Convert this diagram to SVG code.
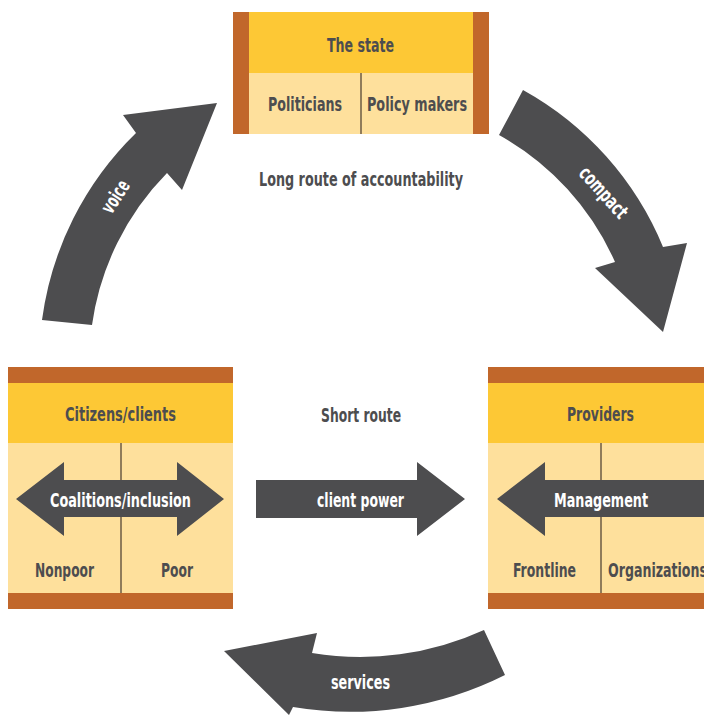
<svg xmlns="http://www.w3.org/2000/svg" width="704" height="715" viewBox="0 0 704 715">
  <style>
    .bar { fill: #C1672B; }
    .head { fill: #FDC835; }
    .body { fill: #FEE09C; }
    .div { stroke: #6B5B45; stroke-width: 1.5; }
    .arrow { fill: #4D4D4F; }
    text { font-family: "DejaVu Sans Condensed", "DejaVu Sans", sans-serif; font-weight: bold; font-size: 20px; text-anchor: middle; }
    .dark { fill: #4D4D4F; }
    .light { fill: #FFFFFF; }
  </style>

  <rect width="704" height="715" fill="#FFFFFF"/>

  <!-- The state -->
  <g id="state">
    <rect class="body" x="233" y="12" width="256" height="122"/>
    <rect class="head" x="233" y="12" width="256" height="61"/>
    <rect class="bar" x="233" y="12" width="16" height="122"/>
    <rect class="bar" x="473" y="12" width="16" height="122"/>
    <line class="div" x1="361" y1="73" x2="361" y2="134"/>
    <text class="dark" x="360.5" y="51.5" textLength="67" lengthAdjust="spacingAndGlyphs">The state</text>
    <text class="dark" x="305" y="111" textLength="74" lengthAdjust="spacingAndGlyphs">Politicians</text>
    <text class="dark" x="417" y="111" textLength="100" lengthAdjust="spacingAndGlyphs">Policy makers</text>
  </g>

  <!-- Citizens/clients -->
  <g id="citizens">
    <rect class="body" x="8" y="367" width="225" height="242"/>
    <rect class="head" x="8" y="383" width="225" height="60"/>
    <rect class="bar" x="8" y="367" width="225" height="16"/>
    <rect class="bar" x="8" y="593" width="225" height="16"/>
    <line class="div" x1="121" y1="443" x2="121" y2="593"/>
    <polygon class="arrow" points="16,499 64,462 64,480 177,480 177,462 224,499 177,536 177,517 64,517 64,536"/>
    <text class="dark" x="120.5" y="421" textLength="111" lengthAdjust="spacingAndGlyphs">Citizens/clients</text>
    <text class="light" x="120.5" y="507" textLength="141" lengthAdjust="spacingAndGlyphs">Coalitions/inclusion</text>
    <text class="dark" x="64.5" y="577" textLength="59" lengthAdjust="spacingAndGlyphs">Nonpoor</text>
    <text class="dark" x="177" y="577" textLength="32" lengthAdjust="spacingAndGlyphs">Poor</text>
  </g>

  <!-- Providers (box runs past the right edge) -->
  <g id="providers">
    <rect class="body" x="488" y="367" width="225" height="242"/>
    <rect class="head" x="488" y="383" width="225" height="60"/>
    <rect class="bar" x="488" y="367" width="225" height="16"/>
    <rect class="bar" x="488" y="593" width="225" height="16"/>
    <line class="div" x1="601" y1="443" x2="601" y2="593"/>
    <polygon class="arrow" points="497,499 545,462 545,480 713,480 713,517 545,517 545,536"/>
    <text class="dark" x="600.5" y="421" textLength="67" lengthAdjust="spacingAndGlyphs">Providers</text>
    <text class="light" x="601" y="507" textLength="94" lengthAdjust="spacingAndGlyphs">Management</text>
    <text class="dark" x="544.5" y="577" textLength="63" lengthAdjust="spacingAndGlyphs">Frontline</text>
    <text class="dark" x="608" y="577" textLength="99" lengthAdjust="spacingAndGlyphs" style="text-anchor:start">Organizations</text>
  </g>

  <!-- Route captions -->
  <g id="captions">
    <text class="dark" x="361" y="186" textLength="204" lengthAdjust="spacingAndGlyphs">Long route of accountability</text>
    <text class="dark" x="361" y="421.5" textLength="80" lengthAdjust="spacingAndGlyphs">Short route</text>
  </g>

  <!-- Connectors -->
  <g id="connectors">
    <g id="voice">
      <path class="arrow" d="M42,320 A320,320 0 0 1 136,133 L123,115 L217,103 L182,190 L167,173 A270,270 0 0 0 92,325 Z"/>
      <text class="light" transform="translate(116,197) rotate(-57)" x="0" y="6" textLength="35" lengthAdjust="spacingAndGlyphs">voice</text>
    </g>
    <g id="compact">
      <path class="arrow" d="M523,90 A318,318 0 0 1 663,247 L687,243 L663,332 L595,268 L615,262 A270,270 0 0 0 499,135 Z"/>
      <text class="light" transform="translate(603,193) rotate(48)" x="0" y="6" textLength="62" lengthAdjust="spacingAndGlyphs">compact</text>
    </g>
    <g id="services">
      <path class="arrow" d="M484,630 A297,297 0 0 1 312,653 L317,633 L224,651 L289,715 L293,707 A345,345 0 0 0 505,675 Z"/>
      <text class="light" x="360.5" y="689" textLength="59" lengthAdjust="spacingAndGlyphs">services</text>
    </g>
    <g id="client-power">
      <polygon class="arrow" points="256,480 417,480 417,462 465,499 417,536 417,518 256,518"/>
      <text class="light" x="360.5" y="507" textLength="87" lengthAdjust="spacingAndGlyphs">client power</text>
    </g>
  </g>
</svg>
